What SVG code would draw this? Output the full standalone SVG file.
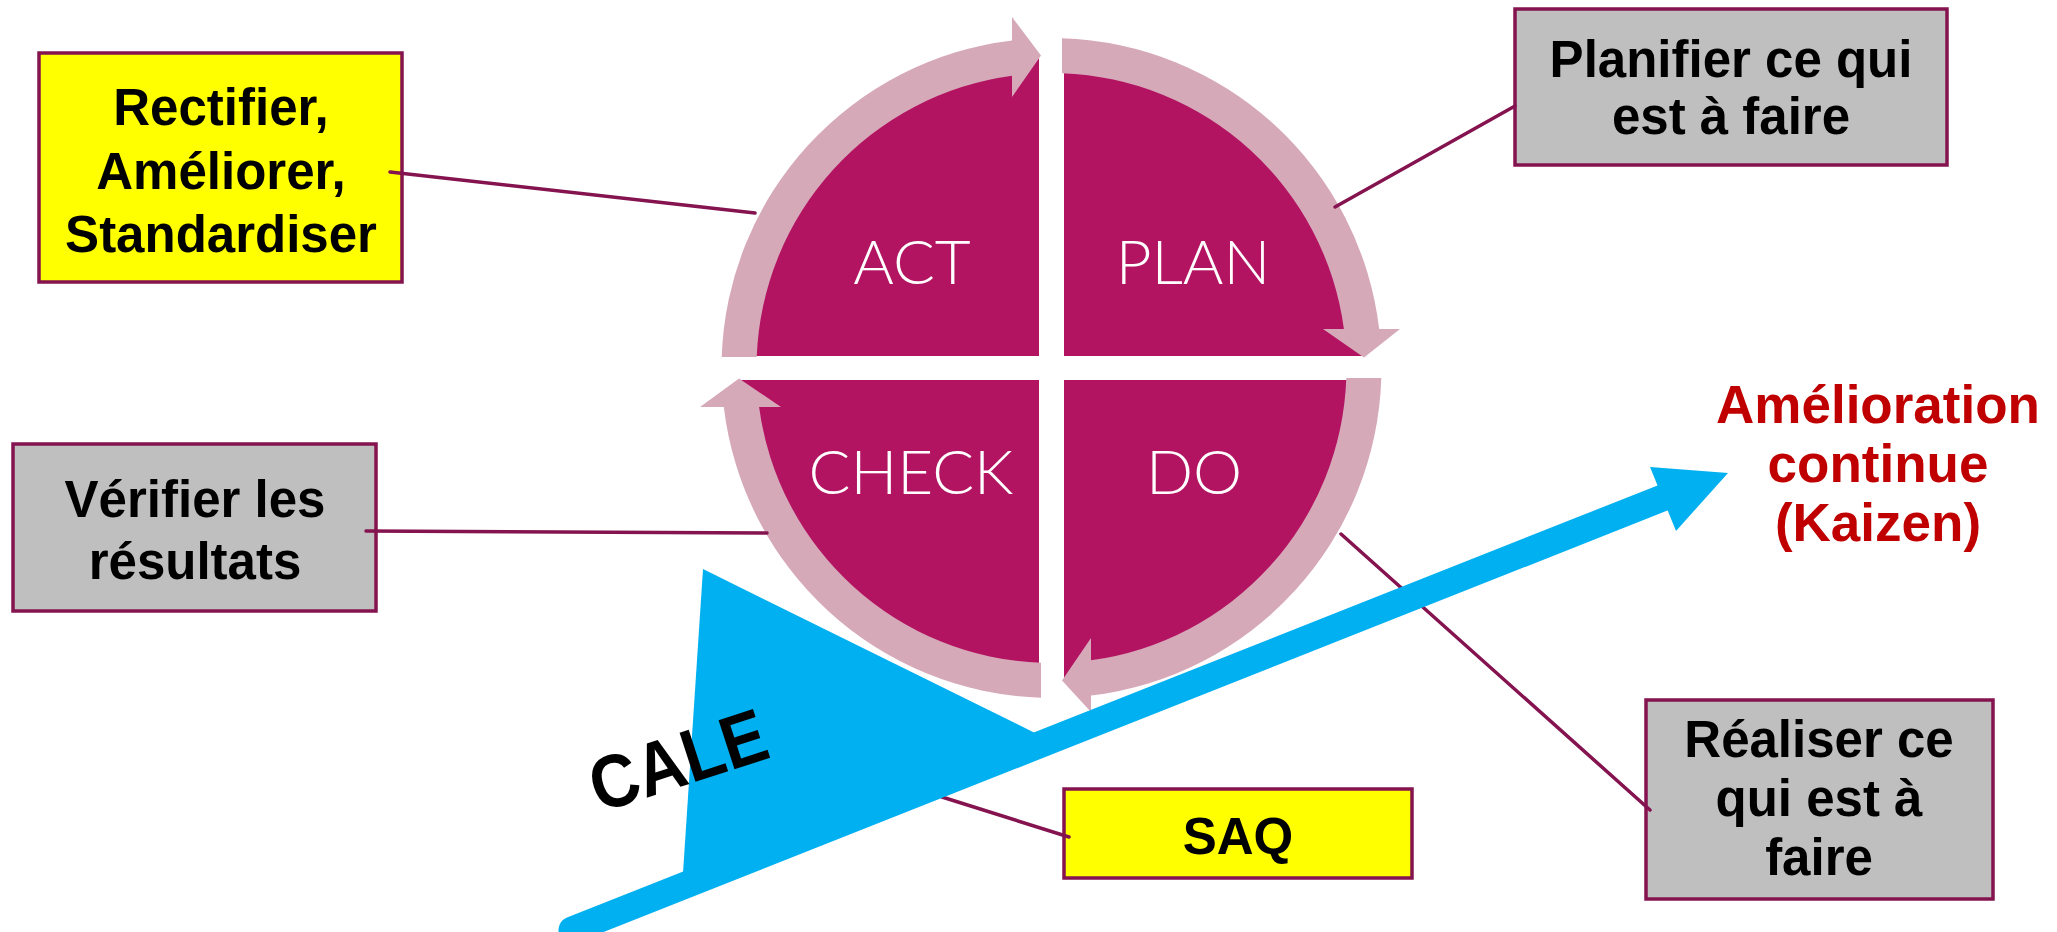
<svg xmlns="http://www.w3.org/2000/svg" width="2057" height="932" viewBox="0 0 2057 932">
<defs>
<style>
.quad{fill:#B31462}
.ring{fill:#D6A9B9}
.qlabel{font-family:Lato,"Liberation Sans",sans-serif;font-weight:300;font-size:62px;fill:#FFFFFF;text-anchor:middle}
.box{stroke:#84134F;stroke-width:3.5}
.yellow{fill:#FFFF00}
.gray{fill:#BFBFBF}
.btxt{font-family:"Liberation Sans",Arial,sans-serif;font-weight:bold;font-size:51px;fill:#000000;text-anchor:middle}
.conn{stroke:#84134F;stroke-width:3.5;stroke-linecap:round;fill:none}
.blue{fill:#00B0F0}
.kaizen{font-family:"Liberation Sans",Arial,sans-serif;font-weight:bold;font-size:53px;fill:#C00000;text-anchor:middle}
</style>
</defs>
<rect x="0" y="0" width="2057" height="932" fill="#FFFFFF"/>

<g id="cycle">
  <g id="act">
    <path class="quad" d="M1039 356 L1039 55.25 A313 313 0 0 0 738.7 356 Z"/>
    <path class="ring" d="M721.7 357 A330 330 0 0 1 1012 40.4 L1012 17 L1041 55.5 L1012 97 L1012 75.7 A295 295 0 0 0 756.7 357 Z"/>
    <text class="qlabel" x="912" y="284">ACT</text>
  </g>
  <g id="plan">
    <path class="quad" d="M1064 356 L1064 55.25 A313 313 0 0 1 1364.3 356 Z"/>
    <path class="ring" d="M1062 38.2 A330 330 0 0 1 1379.2 329 L1400 329 L1364 357.5 L1323 329 L1343.9 329 A295 295 0 0 0 1062 73.2 Z"/>
    <text class="qlabel" x="1193" y="284">PLAN</text>
  </g>
  <g id="do">
    <path class="quad" d="M1064 380 L1364.3 380 A313 313 0 0 1 1064 680.75 Z"/>
    <path class="ring" d="M1381.3 378 A330 330 0 0 1 1091 695.6 L1091 712 L1062 680.5 L1091 638 L1091 660.3 A295 295 0 0 0 1346.3 378 Z"/>
    <text class="qlabel" x="1194" y="494">DO</text>
  </g>
  <g id="check">
    <path class="quad" d="M1039 380 L738.7 380 A313 313 0 0 0 1039 680.75 Z"/>
    <path class="ring" d="M1041 697.8 A330 330 0 0 1 723.8 407 L700 407 L739 378.5 L781 407 L759.1 407 A295 295 0 0 0 1041 662.8 Z"/>
    <text class="qlabel" x="911" y="494">CHECK</text>
  </g>
</g>

<g id="box-act">
  <rect class="box yellow" x="39" y="53" width="363" height="229"/>
  <text class="btxt" x="221" y="125">Rectifier,</text>
  <text class="btxt" x="221" y="189">Améliorer,</text>
  <text class="btxt" x="221" y="252">Standardiser</text>
</g>

<g id="box-check">
  <rect class="box gray" x="13" y="444" width="363" height="167"/>
  <text class="btxt" x="195" y="517">Vérifier les</text>
  <text class="btxt" x="195" y="579">résultats</text>
</g>

<g id="box-plan">
  <rect class="box gray" x="1515" y="9" width="432" height="156"/>
  <text class="btxt" x="1731" y="77">Planifier ce qui</text>
  <text class="btxt" x="1731" y="134">est à faire</text>
</g>

<g id="box-do">
  <rect class="box gray" x="1646" y="700" width="347" height="199"/>
  <text class="btxt" x="1819" y="757">Réaliser ce</text>
  <text class="btxt" x="1819" y="816">qui est à</text>
  <text class="btxt" x="1819" y="875">faire</text>
</g>

<g id="box-saq">
  <rect class="box yellow" x="1064" y="789" width="348" height="89"/>
  <text class="btxt" x="1238" y="854">SAQ</text>
</g>

<g id="connectors">
  <line class="conn" x1="390" y1="172" x2="755" y2="213"/>
  <line class="conn" x1="366" y1="531" x2="767" y2="533"/>
  <line class="conn" x1="1515" y1="106" x2="1335" y2="207"/>
  <line class="conn" x1="1341" y1="534" x2="1650" y2="810"/>
  <line class="conn" x1="942" y1="797" x2="1069" y2="837"/>
</g>

<g id="kaizen-arrow">
  <polygon class="blue" points="703,569 1035,733 683,873"/>
  <line x1="572" y1="930" x2="1665" y2="497" stroke="#00B0F0" stroke-width="27" stroke-linecap="round"/>
  <polygon class="blue" points="1650,467 1728,473 1676,531"/>
  <text transform="translate(686,785) rotate(-18)" x="0" y="0" text-anchor="middle" textLength="182" lengthAdjust="spacingAndGlyphs" font-family="'Liberation Sans',Arial,sans-serif" font-weight="bold" font-size="75" fill="#000000">CALE</text>
</g>

<g id="label-kaizen">
  <text class="kaizen" x="1878" y="423">Amélioration</text>
  <text class="kaizen" x="1878" y="482">continue</text>
  <text class="kaizen" x="1878" y="541">(Kaizen)</text>
</g>
</svg>
